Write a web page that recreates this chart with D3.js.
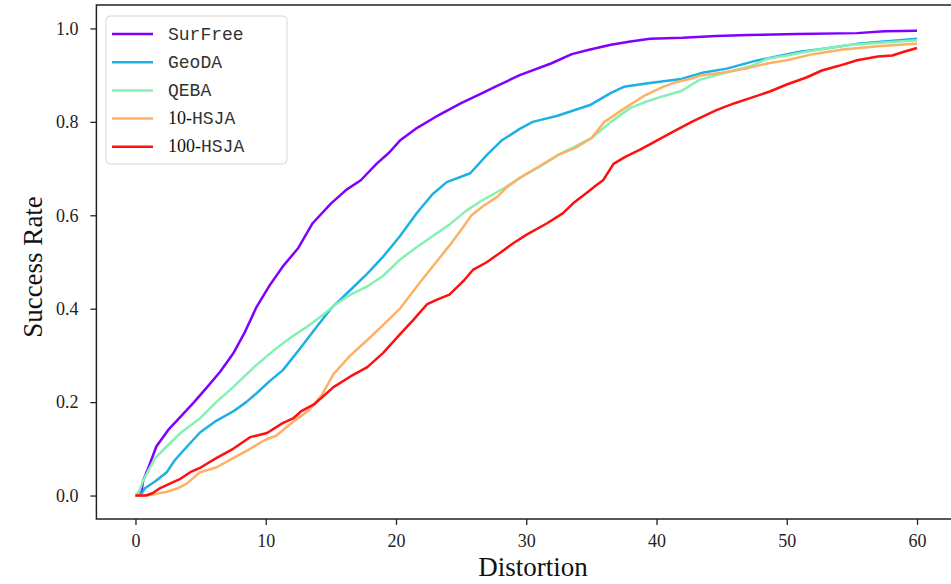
<!DOCTYPE html>
<html>
<head>
<meta charset="utf-8" />
<title>Success rate vs distortion</title>
<script src="https://cdnjs.cloudflare.com/ajax/libs/d3/7.8.5/d3.min.js"></script>
<style>
  body { margin: 0; padding: 0; background: #fff; }
  svg { display: block; }
  .tick text { font-family: "Liberation Serif", "DejaVu Serif", serif; font-size: 18px; fill: #222; }
  .tick line { stroke: #222; stroke-width: 1.3; }
  .domain { display: none; }
</style>
</head>
<body>
<svg id="chart" width="951" height="584"></svg>
<script>
// series: [distortion, success rate]
var surfree = [[0,0],[0.4,0.0],[0.6,0.033],[1.0,0.06],[1.6,0.105],[2.5,0.14],[3.7,0.176],[4.5,0.2],[5.5,0.232],[6.5,0.265],[7.5,0.304],[8.4,0.35],[9.3,0.404],[10.3,0.45],[11.3,0.49],[12.5,0.53],[13.6,0.583],[15,0.625],[16.2,0.655],[17.3,0.675],[18.5,0.71],[19.5,0.735],[20.3,0.76],[21.5,0.785],[23,0.81],[25,0.84],[26.5,0.86],[27.6,0.875],[29.5,0.9],[31.9,0.925],[33.5,0.945],[34.9,0.955],[36.5,0.965],[38,0.972],[39.5,0.978],[42,0.98],[44.6,0.984],[47,0.986],[50.8,0.988],[55.4,0.99],[57.5,0.994],[60,0.995]];
var geoda = [[0,0],[0.5,0.005],[0.7,0.015],[1.5,0.03],[2.4,0.05],[3.0,0.075],[3.7,0.097],[4.95,0.135],[6.2,0.16],[7.5,0.18],[8.5,0.2],[9.3,0.219],[10.3,0.245],[11.3,0.268],[12.5,0.31],[13.9,0.361],[15,0.4],[16.5,0.44],[17.8,0.475],[19,0.511],[20.3,0.555],[21.6,0.605],[22.8,0.645],[23.9,0.671],[25.7,0.69],[27,0.73],[28.1,0.76],[29.5,0.785],[30.5,0.8],[32.4,0.813],[34.9,0.836],[36.5,0.862],[37.5,0.875],[39.2,0.882],[41.9,0.892],[43.5,0.905],[45.4,0.914],[47.5,0.93],[49.4,0.941],[51,0.95],[52.7,0.956],[55.4,0.967],[57.5,0.972],[60,0.978]];
var qeba = [[0,0],[0.3,0.01],[0.6,0.033],[1.5,0.08],[2.4,0.105],[3.5,0.135],[4.95,0.165],[6.2,0.2],[7.5,0.232],[9.1,0.275],[10.8,0.315],[12,0.34],[13.1,0.36],[14.3,0.385],[15.4,0.41],[16.5,0.43],[17.8,0.448],[19,0.47],[20.3,0.505],[21.5,0.53],[22.8,0.555],[24.1,0.58],[25.4,0.61],[26.5,0.63],[28.4,0.66],[29.5,0.68],[31.1,0.705],[32.5,0.73],[33.8,0.748],[35,0.765],[36.5,0.8],[38,0.83],[39.2,0.843],[40.5,0.855],[41.9,0.866],[43.3,0.89],[44.6,0.9],[46,0.91],[47.3,0.92],[48.5,0.935],[50,0.942],[51.5,0.95],[52.7,0.956],[55,0.965],[57.5,0.97],[60,0.975]];
var hsja10 = [[0,0],[0.8,0],[1.5,0.003],[2.4,0.008],[3.2,0.015],[3.9,0.025],[4.95,0.05],[6.2,0.06],[7.5,0.08],[8.8,0.1],[10,0.12],[10.8,0.128],[12.1,0.158],[12.7,0.17],[13.4,0.185],[14.3,0.215],[15.2,0.26],[16.5,0.3],[17.8,0.333],[19,0.365],[20.3,0.4],[21.8,0.455],[22.8,0.49],[24.1,0.535],[24.9,0.565],[25.8,0.6],[26.7,0.62],[27.8,0.64],[28.5,0.66],[29.5,0.68],[31,0.705],[32.5,0.73],[33.8,0.745],[35,0.765],[36,0.8],[37.6,0.83],[39,0.855],[40.5,0.875],[41.5,0.885],[42.7,0.893],[43.5,0.9],[45,0.905],[47,0.915],[48.5,0.925],[50,0.932],[52,0.945],[54.3,0.955],[57,0.962],[60,0.968]];
var hsja100 = [[0,0],[0.8,0],[1.3,0.005],[1.9,0.016],[2.6,0.025],[3.4,0.035],[4.2,0.05],[5,0.06],[6.2,0.08],[7.5,0.1],[8.8,0.125],[10.1,0.134],[11.3,0.155],[12.1,0.165],[12.7,0.18],[13.7,0.195],[15.2,0.232],[16.5,0.255],[17.8,0.275],[19,0.305],[20.3,0.345],[21.3,0.375],[22.4,0.41],[23.2,0.42],[24.1,0.43],[25.2,0.46],[25.9,0.483],[27,0.5],[28,0.52],[29,0.54],[30,0.558],[31.6,0.583],[32.8,0.604],[33.7,0.628],[34.6,0.647],[35.4,0.665],[35.9,0.675],[36.7,0.71],[37.6,0.725],[38.7,0.74],[39.7,0.755],[41,0.775],[42.7,0.8],[44.6,0.825],[46,0.84],[47.3,0.852],[48.7,0.865],[50,0.88],[51.5,0.895],[52.7,0.91],[54,0.92],[55.4,0.932],[57,0.94],[58.1,0.942],[59,0.95],[60,0.958]];

var names = ["SurFree", "GeoDA", "QEBA", "10-HSJA", "100-HSJA"];
var colors = ["#8000ff", "#1cb0e4", "#86f0b4", "#fcb166", "#ff1010"];
var xTicks = [0, 10, 20, 30, 40, 50, 60];
var yTicks = [0.0, 0.2, 0.4, 0.6, 0.8, 1.0];

var series = [surfree, geoda, qeba, hsja10, hsja100];

var svg = d3.select("#chart");

// matplotlib style 5% margins, right side runs off the picture
var x = d3.scaleLinear().domain([-3, 63]).range([96.4, 956.1]);
var y = d3.scaleLinear().domain([-0.05, 1.05]).range([518.9, 5.1]);

svg.append("g")
  .attr("transform", "translate(0," + y(-0.05) + ")")
  .call(d3.axisBottom(x).tickValues(xTicks).tickSize(6).tickPadding(9).tickFormat(d3.format("d")));

svg.append("g")
  .attr("transform", "translate(" + x(-3) + ",0)")
  .call(d3.axisLeft(y).tickValues(yTicks).tickSize(6).tickPadding(12).tickFormat(d3.format(".1f")));

var line = d3.line().x(function(d){ return x(d[0]); }).y(function(d){ return y(d[1]); });

series.forEach(function(s, i) {
  svg.append("path")
    .datum(s)
    .attr("fill", "none")
    .attr("stroke", colors[i])
    .attr("stroke-width", 2.5)
    .attr("stroke-linejoin", "round")
    .attr("d", line);
});

// spines (left, top, bottom)
svg.append("path")
  .attr("d", "M" + x(63) + "," + y(1.05) + "H" + x(-3) + "V" + y(-0.05) + "H" + x(63))
  .attr("fill", "none")
  .attr("stroke", "#222")
  .attr("stroke-width", 1.5);

// axis titles
svg.append("text")
  .attr("x", 533).attr("y", 576)
  .attr("text-anchor", "middle")
  .style("font-family", "'Liberation Serif', serif")
  .style("font-size", "27px")
  .style("fill", "#111")
  .text("Distortion");

svg.append("text")
  .attr("transform", "translate(42,267) rotate(-90)")
  .attr("text-anchor", "middle")
  .style("font-family", "'Liberation Serif', serif")
  .style("font-size", "27px")
  .style("fill", "#111")
  .text("Success Rate");

// legend
var lg = svg.append("g");
lg.append("rect")
  .attr("x", 106).attr("y", 16).attr("width", 181).attr("height", 148)
  .attr("rx", 4)
  .attr("fill", "#fff").attr("fill-opacity", 0.8)
  .attr("stroke", "#d6d6d6").attr("stroke-width", 1);

names.forEach(function(n, i) {
  var yy = 34 + i * 28.2;
  lg.append("line")
    .attr("x1", 112).attr("x2", 153).attr("y1", yy).attr("y2", yy)
    .attr("stroke", colors[i]).attr("stroke-width", 2.5);
  var t = lg.append("text").attr("x", 168).attr("y", yy + 5.5)
    .style("font-size", "18px").style("fill", "#333");
  var m = n.match(/^(\d+-)(.*)$/);
  if (m) {
    t.append("tspan").style("font-family", "'Liberation Serif', serif").style("fill", "#111").text(m[1]);
    t.append("tspan").style("font-family", "'Liberation Mono', monospace").text(m[2]);
  } else {
    t.append("tspan").style("font-family", "'Liberation Mono', monospace").text(n);
  }
});
</script>
</body>
</html>
